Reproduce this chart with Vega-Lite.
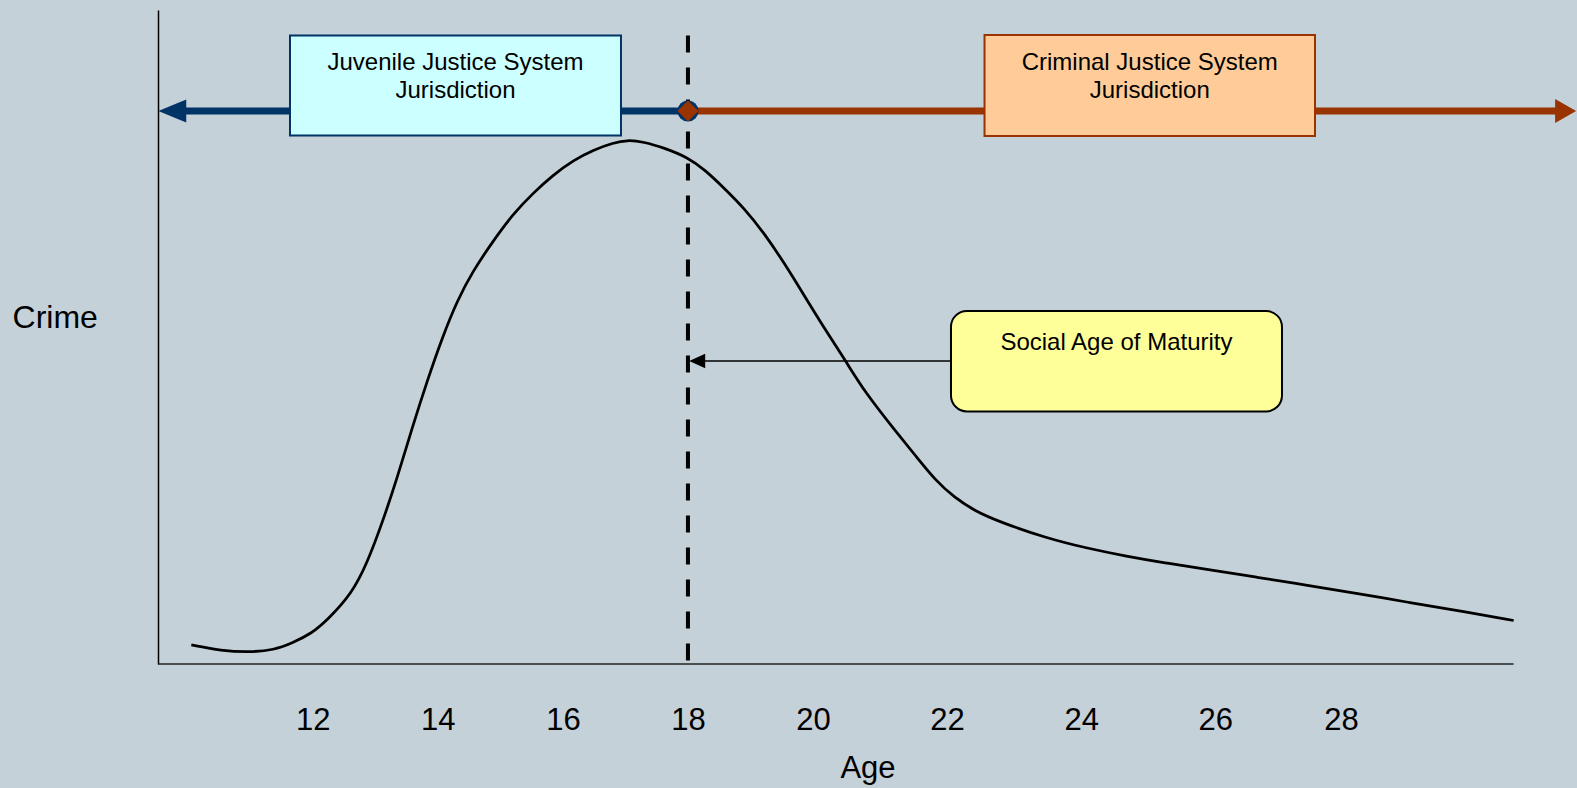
{
  "$schema": "https://vega.github.io/schema/vega-lite/v6.json",
  "width": 1419,
  "height": 654,
  "autosize": {"type": "none"},
  "padding": {"left": 158, "top": 10, "right": 0, "bottom": 124},
  "background": "#C5D1D8",
  "config": {"view": {"stroke": null}, "font": "Liberation Sans"},
  "datasets": {
    "curve": [
      {"age": 10.056, "crime": 2.91}, {"age": 10.536, "crime": 2.03}, {"age": 10.985, "crime": 1.79},
      {"age": 11.379, "crime": 2.14}, {"age": 11.664, "crime": 3.17}, {"age": 11.985, "crime": 4.69},
      {"age": 12.235, "crime": 6.73}, {"age": 12.627, "crime": 10.8}, {"age": 12.868, "crime": 15.41},
      {"age": 13.11, "crime": 21.56}, {"age": 13.351, "crime": 28.49}, {"age": 13.591, "crime": 36.18},
      {"age": 13.833, "crime": 43.39}, {"age": 14.074, "crime": 50.02}, {"age": 14.316, "crime": 55.7},
      {"age": 14.557, "crime": 60.02}, {"age": 14.879, "crime": 64.62}, {"age": 15.2, "crime": 68.78},
      {"age": 15.522, "crime": 72.0}, {"age": 15.843, "crime": 74.77}, {"age": 16.162, "crime": 76.99},
      {"age": 16.488, "crime": 78.61}, {"age": 16.809, "crime": 79.69}, {"age": 17.025, "crime": 80.12},
      {"age": 17.291, "crime": 79.85}, {"age": 17.614, "crime": 78.93}, {"age": 18.001, "crime": 77.45},
      {"age": 18.273, "crime": 75.54}, {"age": 18.578, "crime": 72.77}, {"age": 18.9, "crime": 69.69},
      {"age": 19.221, "crime": 65.86}, {"age": 19.544, "crime": 61.24}, {"age": 19.805, "crime": 57.19},
      {"age": 20.174, "crime": 51.24}, {"age": 20.488, "crime": 46.33}, {"age": 20.774, "crime": 41.56},
      {"age": 21.218, "crime": 35.78}, {"age": 21.521, "crime": 31.96}, {"age": 21.82, "crime": 28.13},
      {"age": 22.118, "crime": 25.38}, {"age": 22.416, "crime": 23.39}, {"age": 22.789, "crime": 21.71},
      {"age": 23.474, "crime": 19.27}, {"age": 24.075, "crime": 17.72}, {"age": 24.674, "crime": 16.48},
      {"age": 25.274, "crime": 15.41}, {"age": 25.873, "crime": 14.5}, {"age": 26.665, "crime": 13.26},
      {"age": 27.464, "crime": 12.03}, {"age": 28.263, "crime": 10.8}, {"age": 29.062, "crime": 9.42},
      {"age": 29.86, "crime": 8.18}, {"age": 30.738, "crime": 6.65}
    ],
    "axisLine": [{"from": 9.523, "to": 30.738, "crime": 0}],
    "ageLine": [{"age": 18, "top": 96.1, "bottom": 0}],
    "jurisdiction": [
      {"system": "Juvenile", "from": 9.795, "to": 18, "crime": 84.56},
      {"system": "Criminal", "from": 18, "to": 31.45, "crime": 84.56}
    ],
    "heads": [
      {"system": "Juvenile", "age": 9.528, "crime": 84.56},
      {"system": "Criminal", "age": 31.73, "crime": 84.56}
    ],
    "marker": [{"age": 18, "crime": 84.56}],
    "boxes": [
      {"system": "Juvenile", "label": "Juvenile Justice System\nJurisdiction", "left": 11.635, "right": 16.929, "top": 96.1, "bottom": 80.81, "textAge": 14.282, "textCrime": 90.9},
      {"system": "Criminal", "label": "Criminal Justice System\nJurisdiction", "left": 22.558, "right": 27.585, "top": 96.18, "bottom": 80.73, "textAge": 25.022, "textCrime": 90.9},
      {"system": "Maturity", "label": "Social Age of Maturity", "left": 22.058, "right": 27.06, "top": 53.98, "bottom": 38.61, "textAge": 24.526, "textCrime": 48.01}
    ],
    "pointer": [{"from": 22.058, "to": 18.193, "crime": 46.33}],
    "pointerHead": [{"age": 18.02, "crime": 46.33}]
  },
  "layer": [
    {
      "data": {"name": "axisLine"},
      "mark": {"type": "rule", "color": "#222222", "strokeWidth": 1.5},
      "encoding": {
        "x": {
          "field": "from", "type": "quantitative",
          "scale": {"domain": [9.523, 12, 20, 26, 28, 31.744], "range": [0, 154.8, 655, 1057.3, 1183.1, 1419], "nice": false, "zero": false},
          "axis": {
            "values": [12, 14, 16, 18, 20, 22, 24, 26, 28], "format": "d",
            "domain": false, "ticks": false, "tickSize": 0, "grid": false,
            "labelFont": "Liberation Sans", "labelFontSize": 31, "labelColor": "#000000",
            "labelPadding": 65, "labelBaseline": "alphabetic", "labelFlush": false, "labelOverlap": false,
            "title": "Age", "titleFont": "Liberation Sans", "titleFontSize": 31, "titleFontWeight": "normal",
            "titleColor": "#000000", "titleBaseline": "alphabetic", "titleY": 113.3
          }
        },
        "x2": {"field": "to"},
        "y": {
          "field": "crime", "type": "quantitative",
          "scale": {"domain": [0, 100], "nice": false, "zero": false},
          "axis": {
            "domain": true, "domainColor": "#000000", "domainWidth": 1.5,
            "ticks": false, "labels": false, "grid": false,
            "title": "Crime", "titleAngle": 0, "titleX": -103.3, "titleY": 317.3,
            "titleAlign": "center", "titleBaseline": "alphabetic",
            "titleFont": "Liberation Sans", "titleFontSize": 32, "titleFontWeight": "normal", "titleColor": "#000000"
          }
        }
      }
    },
    {
      "data": {"name": "curve"},
      "mark": {"type": "line", "interpolate": "basis", "color": "#000000", "strokeWidth": 2.75},
      "encoding": {
        "x": {"field": "age", "type": "quantitative"},
        "y": {"field": "crime", "type": "quantitative"}
      }
    },
    {
      "data": {"name": "ageLine"},
      "mark": {"type": "rule", "color": "#000000", "strokeWidth": 4, "strokeDash": [17, 15]},
      "encoding": {
        "x": {"field": "age", "type": "quantitative"},
        "y": {"field": "top", "type": "quantitative"},
        "y2": {"field": "bottom"}
      }
    },
    {
      "data": {"name": "jurisdiction"},
      "mark": {"type": "rule", "strokeWidth": 7, "strokeCap": "butt"},
      "encoding": {
        "x": {"field": "from", "type": "quantitative"},
        "x2": {"field": "to"},
        "y": {"field": "crime", "type": "quantitative"},
        "color": {"field": "system", "type": "nominal", "scale": {"domain": ["Juvenile", "Criminal"], "range": ["#003366", "#993300"]}, "legend": null}
      }
    },
    {
      "data": {"name": "heads"},
      "mark": {"type": "point", "filled": true, "opacity": 1, "size": 576, "strokeWidth": 0},
      "encoding": {
        "x": {"field": "age", "type": "quantitative"},
        "y": {"field": "crime", "type": "quantitative"},
        "shape": {"field": "system", "type": "nominal", "scale": {"domain": ["Juvenile", "Criminal"], "range": ["M0,0L2.33,-0.95L2.33,0.95Z", "M0,0L-1.75,-1L-1.75,1Z"]}, "legend": null},
        "color": {"field": "system", "type": "nominal", "legend": null}
      }
    },
    {
      "data": {"name": "marker"},
      "mark": {"type": "point", "shape": "circle", "filled": true, "opacity": 1, "size": 441, "color": "#003366", "strokeWidth": 0},
      "encoding": {
        "x": {"field": "age", "type": "quantitative"},
        "y": {"field": "crime", "type": "quantitative"}
      }
    },
    {
      "data": {"name": "marker"},
      "mark": {"type": "point", "shape": "diamond", "filled": true, "opacity": 1, "size": 441, "color": "#993300", "strokeWidth": 0},
      "encoding": {
        "x": {"field": "age", "type": "quantitative"},
        "y": {"field": "crime", "type": "quantitative"}
      }
    },
    {
      "data": {"name": "boxes"},
      "transform": [{"filter": "datum.system !== 'Maturity'"}],
      "mark": {"type": "rect", "strokeWidth": 2},
      "encoding": {
        "x": {"field": "left", "type": "quantitative"},
        "x2": {"field": "right"},
        "y": {"field": "top", "type": "quantitative"},
        "y2": {"field": "bottom"},
        "fill": {"field": "system", "type": "nominal", "scale": {"domain": ["Juvenile", "Criminal", "Maturity"], "range": ["#CCFFFF", "#FFCC99", "#FFFF99"]}, "legend": null},
        "stroke": {"field": "system", "type": "nominal", "scale": {"domain": ["Juvenile", "Criminal", "Maturity"], "range": ["#003366", "#993300", "#000000"]}, "legend": null}
      }
    },
    {
      "data": {"name": "boxes"},
      "transform": [{"filter": "datum.system === 'Maturity'"}],
      "mark": {"type": "rect", "strokeWidth": 2, "cornerRadius": 16, "fill": "#FFFF99", "stroke": "#000000"},
      "encoding": {
        "x": {"field": "left", "type": "quantitative"},
        "x2": {"field": "right"},
        "y": {"field": "top", "type": "quantitative"},
        "y2": {"field": "bottom"}
      }
    },
    {
      "data": {"name": "boxes"},
      "mark": {"type": "text", "font": "Liberation Sans", "fontSize": 24, "color": "#000000", "align": "center", "baseline": "alphabetic", "lineBreak": "\n", "lineHeight": 28.3},
      "encoding": {
        "x": {"field": "textAge", "type": "quantitative"},
        "y": {"field": "textCrime", "type": "quantitative"},
        "text": {"field": "label"}
      }
    },
    {
      "data": {"name": "pointer"},
      "mark": {"type": "rule", "color": "#000000", "strokeWidth": 1.5},
      "encoding": {
        "x": {"field": "from", "type": "quantitative"},
        "x2": {"field": "to"},
        "y": {"field": "crime", "type": "quantitative"}
      }
    },
    {
      "data": {"name": "pointerHead"},
      "mark": {"type": "point", "shape": "M0,0L2,-0.9L2,0.9Z", "filled": true, "opacity": 1, "size": 256, "color": "#000000", "strokeWidth": 0},
      "encoding": {
        "x": {"field": "age", "type": "quantitative"},
        "y": {"field": "crime", "type": "quantitative"}
      }
    }
  ]
}
